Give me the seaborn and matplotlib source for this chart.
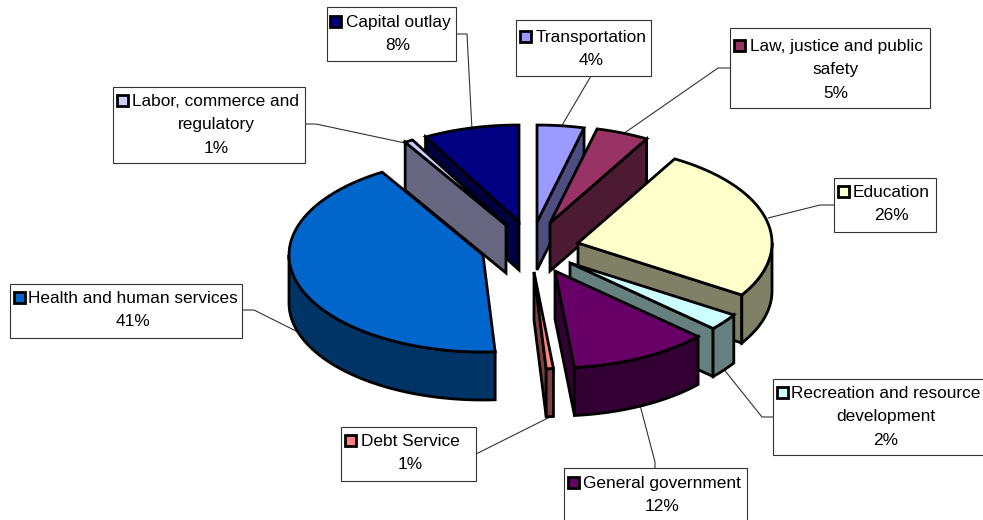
import matplotlib
matplotlib.use('Agg')
import matplotlib.pyplot as plt
import numpy as np
import seaborn as sns
from matplotlib.patches import Polygon, Rectangle

# clockwise from 12 o'clock
categories = ['Transportation', 'Law, justice and public\nsafety', 'Education',
              'Recreation and resource\ndevelopment', 'General government', 'Debt Service',
              'Health and human services', 'Labor, commerce and\nregulatory', 'Capital outlay']
# printed percentages
printed_pct = [4, 5, 26, 2, 12, 1, 41, 1, 8]
# slice sizes as measured off the tilted drawing, they differ a bit from the printed ones
slice_share = [3.9, 4.4, 25.7, 2.8, 11.6, 0.6, 42.3, 0.7, 8.0]
slice_colors = ['#9999FF', '#993366', '#FFFFCC', '#CCFFFF', '#660066',
                '#FF8080', '#0066CC', '#CCCCFF', '#000080']

# layout, in image pixels
rx, ry, depth = 194, 97, 48
line_w = 2.0
apex = [(537, 222), (550, 223), (578, 243), (570, 263), (555, 271),
        (534, 272), (483, 255), (506, 225), (519, 222)]
draw_order = [0, 8, 1, 7, 2, 6, 3, 4, 5]  # back to front
boxes = [(516, 20, 135, 56), (730, 28, 200, 80), (834, 178, 102, 54), (773, 379, 230, 76),
         (564, 468, 183, 60), (341, 427, 135, 54), (10, 284, 232, 54), (113, 87, 192, 76),
         (327, 7, 129, 54)]
text_x = [591, 836, 891, 886, 662, 410, 133, 216, 398]
key_x = [520, 734, 838, 777, 568, 345, 14, 117, 330]
first_line_y = [37.5, 46.5, 192.5, 393.5, 483.5, 441.5, 298.5, 101.5, 22.5]
line_gap = 23.3
leaders = [[(591, 76), (561, 127)],
           [(730, 68), (718, 68), (623, 134)],
           [(834, 205), (820, 205), (768, 218)],
           [(773, 417), (762, 417), (722, 367)],
           [(655, 468), (655, 462), (640, 405)],
           [(476, 454), (548, 418)],
           [(242, 310), (254, 310), (298, 332)],
           [(305, 124), (316, 124), (405, 143)],
           [(456, 34), (467, 34), (472, 130)]]

sns.set_theme(style='white')
plt.rcParams['font.family'] = ['Liberation Sans', 'DejaVu Sans']
palette = sns.color_palette(slice_colors)
dark_palette = [tuple(c * 0.5 for c in col) for col in palette]

fig, ax = plt.subplots(figsize=(9.83, 5.2), dpi=100)
fig.subplots_adjust(0, 0, 1, 1)
ax.set_xlim(0, 983)
ax.set_ylim(520, 0)
ax.axis('off')


def arc(center, start, end, drop=0):
    t = np.radians(np.linspace(start, end, 60))
    return np.column_stack([center[0] + rx * np.sin(t), center[1] - ry * np.cos(t) + drop])


def outer_point(center, ang, drop=0):
    t = np.radians(ang)
    return (center[0] + rx * np.sin(t), center[1] - ry * np.cos(t) + drop)


def add_face(pts, color, z):
    ax.add_patch(Polygon(pts, closed=True, facecolor=color, edgecolor='black',
                         linewidth=line_w, joinstyle='miter', zorder=z))


edges = 360 * np.cumsum([0] + slice_share) / np.sum(slice_share)

for line in leaders:
    xs, ys = zip(*line)
    ax.plot(xs, ys, color='#333333', lw=0.8, zorder=1)

for z, i in enumerate(draw_order):
    c, start, end = apex[i], edges[i], edges[i + 1]
    base_z = 2 + z
    low = (c[0], c[1] + depth)
    # radial side walls, only the ones that face the viewer
    if np.cos(np.radians(end + 90)) < -1e-3:
        add_face([c, outer_point(c, end), outer_point(c, end, depth), low], dark_palette[i], base_z)
    if np.cos(np.radians(start - 90)) < -1e-3:
        add_face([c, outer_point(c, start), outer_point(c, start, depth), low], dark_palette[i], base_z)
    # outer rim, front half only
    a, b = max(start, 90), min(end, 270)
    if b > a:
        add_face(np.vstack([arc(c, a, b), arc(c, b, a, depth)]), dark_palette[i], base_z)
    add_face(np.vstack([[c], arc(c, start, end)]), palette[i], base_z)

for i, name in enumerate(categories):
    x, y, w, h = boxes[i]
    ax.add_patch(Rectangle((x, y), w, h, facecolor='white', edgecolor='#333333', linewidth=0.8, zorder=20))
    lines = name.split('\n') + [f'{printed_pct[i]}%']
    for k, txt in enumerate(lines):
        ax.text(text_x[i], first_line_y[i] + k * line_gap, txt, ha='center', va='center',
                fontsize=12.4, color='black', zorder=22)
    ax.add_patch(Rectangle((key_x[i], first_line_y[i] - 6.5), 11, 11, facecolor=palette[i],
                           edgecolor='black', linewidth=line_w, zorder=21))

plt.savefig('out.png', dpi=100)
